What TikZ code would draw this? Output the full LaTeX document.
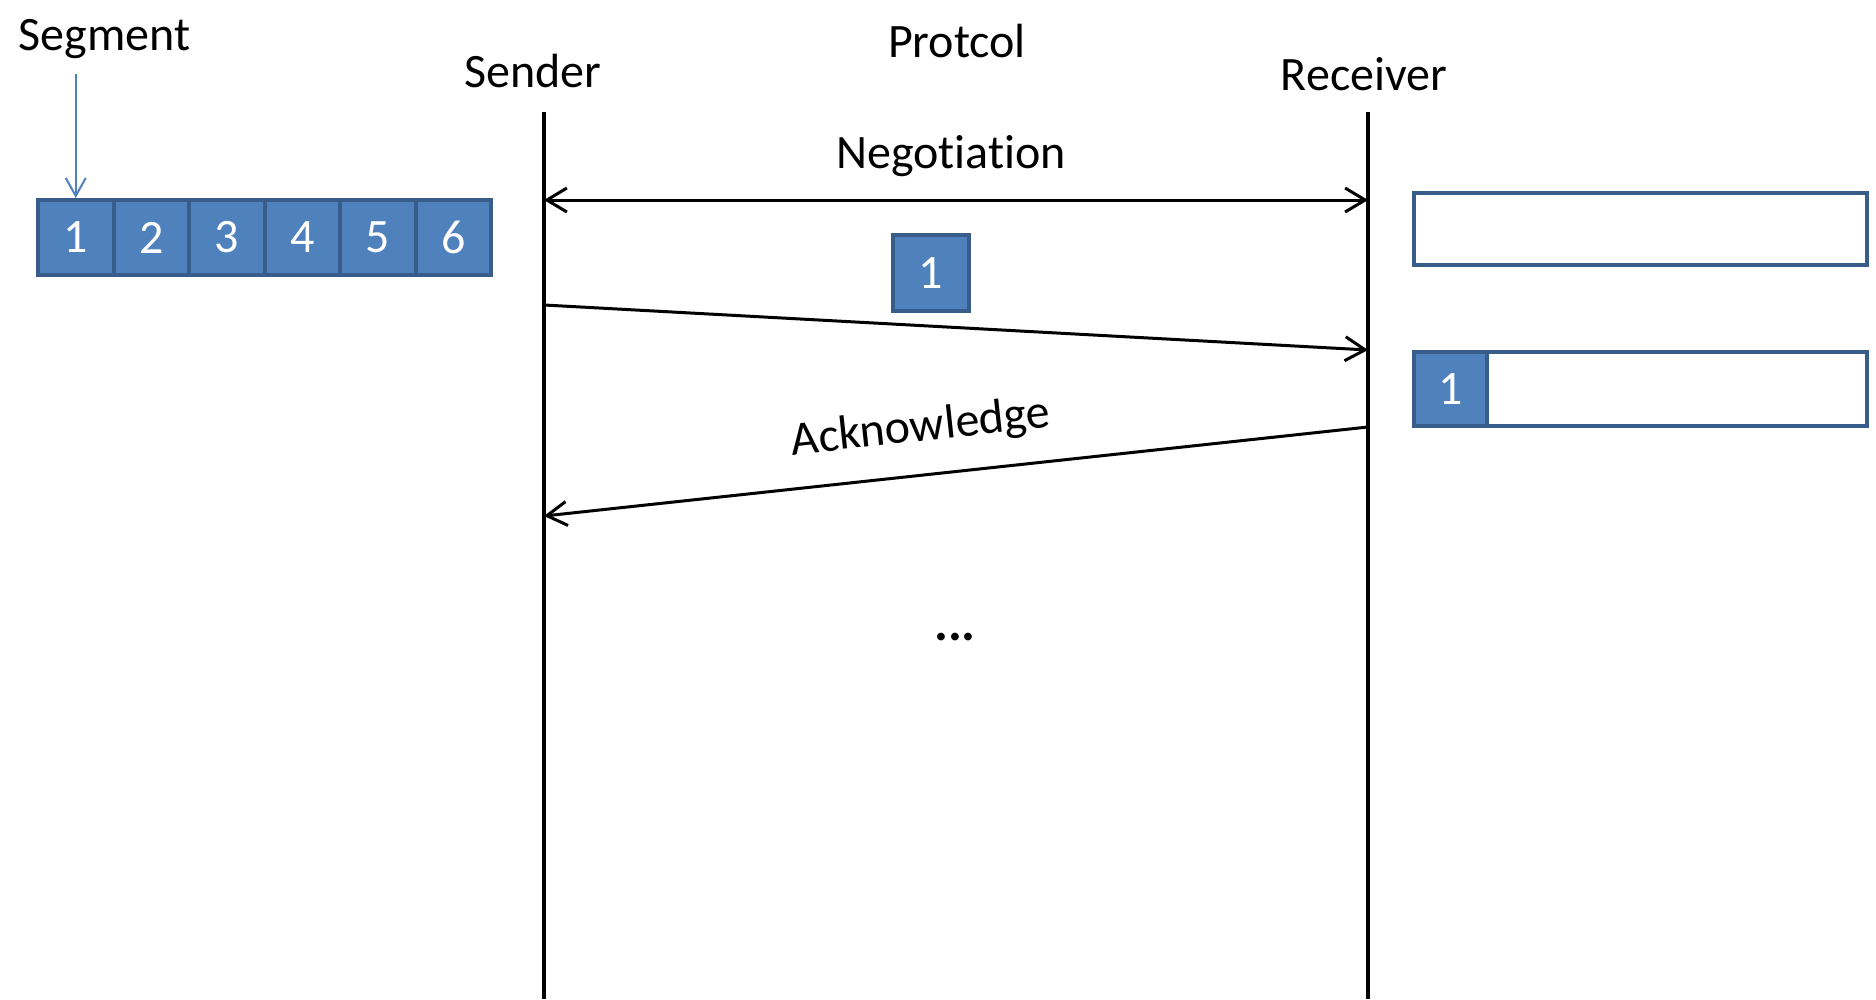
\documentclass[tikz,border=0pt]{standalone}
\usepackage{fontspec}
\setmainfont{Carlito}[Ligatures=NoCommon]
\usetikzlibrary{arrows.meta}
\definecolor{ofblue}{HTML}{4F81BD}
\definecolor{ofdark}{HTML}{385D8A}
\begin{document}
\begin{tikzpicture}[x=1pt,y=-1pt,
  lbl/.style={font=\fontsize{48}{58}\selectfont, inner sep=0pt, anchor=base},
  seg/.style={draw=ofdark, fill=ofblue, line width=4pt, minimum width=75.5pt, minimum height=75pt, inner sep=0pt, text=white, font=\fontsize{48}{56}\selectfont},
  buf/.style={draw=ofdark, fill=white, line width=4pt, minimum width=453pt, inner sep=0pt},
  life/.style={line width=4.5pt, black},
  msg/.style={line width=3pt, black, -{Straight Barb[length=20pt,width=24pt]}},
  both/.style={line width=3pt, black, {Straight Barb[length=20pt,width=24pt]}-{Straight Barb[length=20pt,width=24pt]}},
  pointer/.style={line width=2pt, ofblue, -{Straight Barb[length=18pt,width=20pt]}}
]
\useasboundingbox (0,0) rectangle (1876,999);

% labels
\node[lbl] (segment) at (104.5,50) {Segment};
\node[lbl] (sender) at (533,87) {Sender};
\node[lbl] (protcol) at (957,57) {Protcol};
\node[lbl] (receiver) at (1364,90) {Receiver};
\node[lbl] (negotiation) at (951,168) {Negotiation};
\node[lbl, rotate=6.2] (ack) at (922,441) {Acknowledge};
\node[lbl, font=\fontsize{52}{60}\selectfont\bfseries] (dots) at (955,640) {...};

% lifelines
\coordinate (sTop) at (544,112);
\coordinate (sBot) at (544,999);
\coordinate (rTop) at (1368,112);
\coordinate (rBot) at (1368,999);
\draw[life] (sTop) -- (sBot);
\draw[life] (rTop) -- (rBot);

% segments at sender
\node[seg] (b1) at (75.75,237.5) {1};
\node[seg] (b2) at (151.25,237.5) {2};
\node[seg] (b3) at (226.75,237.5) {3};
\node[seg] (b4) at (302.25,237.5) {4};
\node[seg] (b5) at (377.75,237.5) {5};
\node[seg] (b6) at (453.25,237.5) {6};
\coordinate (segTop) at (75.75,74);
\draw[pointer] (segTop) -- (b1.north);

% packet in flight
\node[seg, minimum height=76pt] (pkt) at (931,273) {1};

% receiver buffers
\node[buf, minimum height=72pt] (buf1) at (1640.5,229) {};
\node[buf, minimum height=74pt] (buf2) at (1640.5,389) {};
\node[seg, minimum width=73pt, minimum height=74pt] (rb1) at (1450.5,389) {1};

% messages
\coordinate (sNeg) at (544,200);
\coordinate (rNeg) at (1368,200);
\coordinate (sData) at (544,305);
\coordinate (rData) at (1368,350);
\coordinate (rAck) at (1368,427);
\coordinate (sAck) at (544,516);
\draw[both] (sNeg) -- (rNeg);
\draw[msg] (sData) -- (rData);
\draw[msg] (rAck) -- (sAck);
\end{tikzpicture}
\end{document}
